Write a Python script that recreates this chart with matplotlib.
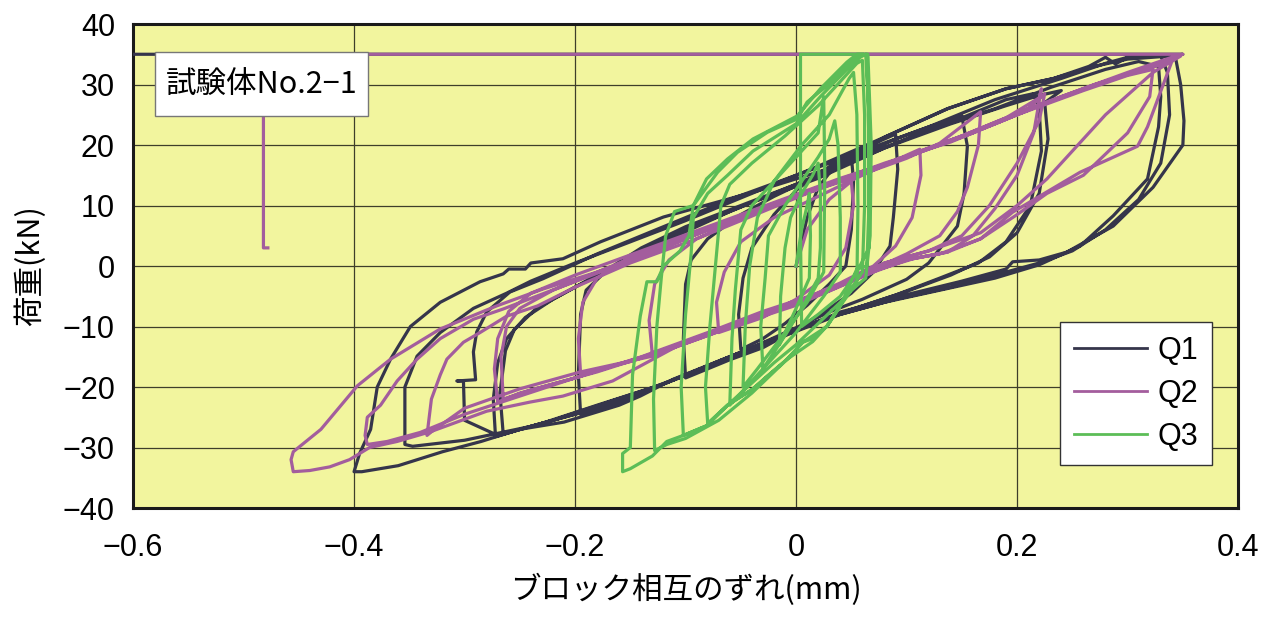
import matplotlib
matplotlib.use("Agg")
import matplotlib.pyplot as plt
from matplotlib.patches import Rectangle

# Q1 (dark) — continuous load path, slip [mm] vs load [kN]
q1_x = [0.0, 0.01, 0.02, 0.035, 0.05, 0.052, 0.05, 0.045, 0.03, 0.01, -0.01, -0.03, -0.05,
        -0.052, -0.048, -0.04, -0.02, 0.0, 0.02, 0.04, 0.055,
        0.07, 0.09, 0.092, 0.088, 0.085, 0.07, 0.05, 0.03, 0.0, -0.03, -0.06, -0.08, -0.1,
        -0.102, -0.1, -0.095, -0.08, -0.05, -0.02, 0.02, 0.06, 0.09, 0.12,
        0.15, 0.155, 0.152, 0.146, 0.12, 0.1, 0.06, 0.03, 0.0, -0.04, -0.08, -0.12, -0.16, -0.195,
        -0.197, -0.195, -0.19, -0.17, -0.14, -0.1, -0.05, 0.0, 0.05, 0.1, 0.15, 0.19,
        0.215, 0.22, 0.222, 0.212, 0.19, 0.165, 0.13, 0.09, 0.04, 0.0, -0.05, -0.1, -0.15, -0.2,
        -0.24, -0.272, -0.274, -0.27, -0.262, -0.245, -0.22, -0.18, -0.14, -0.1, -0.04, 0.02,
        0.08, 0.14, 0.19, 0.22, 0.24,
        0.225, 0.228, 0.22, 0.2, 0.175, 0.14, 0.1, 0.05, 0.0, -0.06, -0.12, -0.18, -0.23, -0.265,
        -0.268, -0.263, -0.255, -0.235, -0.2, -0.16, -0.12, -0.06,
        0.0, 0.06, 0.12, 0.18, 0.23, 0.28, 0.31, 0.328, 0.33, 0.328, 0.318, 0.287, 0.257, 0.22,
        0.18, 0.13, 0.08, 0.03, -0.02, -0.07, -0.12, -0.17, -0.22, -0.27, -0.30,
        -0.301, -0.307, -0.29, -0.292, -0.289, -0.28, -0.259, -0.229,
        -0.18, -0.12, -0.06, 0.0, 0.06, 0.12, 0.18, 0.24, 0.28, 0.3, 0.33, 0.336, 0.338, 0.33,
        0.31, 0.28, 0.25, 0.22, 0.19, 0.14, 0.09, 0.04, -0.01, -0.06, -0.12, -0.18, -0.24, -0.3,
        -0.347, -0.354, -0.354, -0.343, -0.322, -0.292, -0.262, -0.24, -0.2, -0.15, -0.1,
        -0.04, 0.02,
        0.08, 0.137, 0.19, 0.233, 0.265, 0.28, 0.289, 0.3, 0.343, 0.348, 0.351, 0.35, 0.323,
        0.287, 0.245, 0.22, 0.196, 0.19, 0.15, 0.094, 0.04, 0.004, -0.035, -0.066, -0.111,
        -0.141, -0.16, -0.21, -0.25, -0.285, -0.32, -0.36, -0.393, -0.40,
        -0.395, -0.385, -0.379, -0.367, -0.349, -0.322, -0.286, -0.265, -0.26, -0.245, -0.24,
        -0.211, -0.177, -0.12, -0.039, 0.037, 0.08, 0.137, 0.19, 0.233, 0.27, 0.3, 0.33,
        0.343, 0.35, -0.6]
q1_y = [0.0, 8, 13, 16.5, 18.2, 14, 6, 0, -3, -6.5, -9.5, -12, -13.8,
        -8, -2, 3, 8.5, 12.5, 15.3, 17.5, 19,
        20.2, 21.8, 16, 8, 3.3, -1, -4.5, -7, -10.5, -13.5, -15.5, -17, -18.5,
        -12, -3, 1, 4.5, 8.5, 11.5, 15, 18.5, 21, 23,
        24.8, 19.8, 12, 6.6, 0.5, -2.2, -5.5, -7.6, -10.2, -13.5, -16.5, -19.5, -22.5, -24.5,
        -18, -8, -4, -0.5, 3, 6.5, 10, 13.5, 17.5, 21, 24.5, 27.5,
        28.5, 26, 19, 10, 4, 0.5, -2, -4.8, -7.8, -10.5, -14.5, -18, -21.5, -24.5,
        -26.5, -28.2, -22, -16, -12, -8.5, -5.5, -1.5, 2.5, 6, 10.5, 14.5,
        19.5, 23.5, 26.5, 28.2, 29,
        27, 21, 12, 5.5, 1.5, -1.5, -4.2, -7.2, -10.5, -15, -19.5, -23, -26, -27.8,
        -21, -14, -10.5, -7, -3.5, 0.5, 4, 9,
        13.5, 18, 22.5, 26, 29.5, 32.5, 33.8, 33, 28, 23, 14.4, 8.3, 3.3, 0.2,
        -2, -4, -6, -8.5, -12, -16, -19.5, -22.5, -25.5, -28, -25.5,
        -19, -19, -18.8, -14.2, -10.9, -7.6, -4.3, -2.1,
        2, 6.5, 11, 15, 19, 23, 27.5, 31, 33.5, 34.5, 34.8, 32, 25, 17,
        11, 6, 2.5, 0.5, -1, -3.5, -5.5, -8, -11.5, -15, -19.5, -23.5, -26.5, -28.8,
        -29.8, -29.5, -20, -14.9, -11, -7, -4.5, -2.5, 0.5, 4, 7.5,
        12, 16.5,
        21.3, 26, 29.3, 31, 33, 34.5, 33.4, 34.5, 34.8, 30, 24, 20, 13,
        6.6, 2.3, 1, 0.7, -0.5, -2.5, -5, -7.6, -10.4, -13.2, -15.4, -18.7,
        -21.5, -23, -25.8, -27, -29, -30.7, -33, -34, -34,
        -31, -27, -20, -15.4, -10, -6, -2.6, -1.3, -0.5, -0.5, 0.5,
        1.2, 4, 8.1, 12.2, 16.5, 21.3, 26, 29.3, 31, 33, 34.2, 34.6,
        34.8, 35, 35]

# Q2 (purple)
q2_x = [0.0, 0.01, 0.03, 0.05, 0.052, 0.045, 0.03, 0.0, -0.03, -0.07,
        -0.072, -0.065, -0.05, -0.02, 0.02, 0.06,
        0.09, 0.112, 0.113, 0.105, 0.09, 0.07, 0.04, 0.0, -0.04, -0.08, -0.13,
        -0.133, -0.128, -0.115, -0.09, -0.05, 0.0, 0.05, 0.1, 0.13,
        0.167, 0.165, 0.155, 0.146, 0.13, 0.1, 0.076, 0.04, 0.0, -0.05, -0.1, -0.15, -0.195,
        -0.197, -0.193, -0.18, -0.15, -0.1, -0.05, 0.0, 0.05, 0.1, 0.15, 0.19,
        0.22, 0.222, 0.215, 0.2, 0.18, 0.16, 0.137, 0.106, 0.076, 0.03, -0.02, -0.07, -0.13,
        -0.2, -0.25, -0.27, -0.273, -0.27, -0.26, -0.24, -0.2, -0.14, -0.08, -0.02, 0.04, 0.1,
        0.16, 0.21,
        0.225, 0.22, 0.2, 0.175, 0.15, 0.12, 0.08, 0.04, 0.0, -0.06, -0.12, -0.18, -0.24,
        -0.265, -0.267, -0.262, -0.25, -0.22,
        -0.16, -0.1, -0.04, 0.02, 0.08, 0.14, 0.2, 0.26, 0.3, 0.323, 0.32, 0.3, 0.26, 0.227,
        0.2, 0.167, 0.137, 0.1, 0.07, 0.028, -0.02, -0.069, -0.13, -0.195, -0.25, -0.3, -0.33,
        -0.334, -0.33, -0.322, -0.316, -0.301, -0.286, -0.262, -0.234, -0.2, -0.15,
        -0.09, -0.03, 0.03, 0.09, 0.15, 0.21, 0.27, 0.318, 0.34, 0.318, 0.309, 0.257, 0.196,
        0.167, 0.13, 0.09, 0.06, 0.02, -0.03, -0.08, -0.14, -0.2, -0.25, -0.3, -0.34, -0.37,
        -0.388, -0.39, -0.388, -0.376, -0.361, -0.343, -0.322, -0.292, -0.265, -0.225, -0.17,
        -0.1, -0.03, 0.04, 0.1, 0.16, 0.22, 0.28, 0.33, 0.348,
        0.323, 0.28, 0.227, 0.2, 0.167, 0.12, 0.08, 0.04, 0.0, -0.05, -0.1, -0.166, -0.211,
        -0.241, -0.28, -0.307, -0.331, -0.361, -0.386, -0.404, -0.422, -0.44, -0.455,
        -0.457, -0.455, -0.43, -0.397, -0.367, -0.322, -0.271, -0.229, -0.18, -0.12, -0.06,
        0.0, 0.06, 0.12, 0.18, 0.24, 0.3, 0.34, 0.35, -0.482, -0.482, -0.478]
q2_y = [0.0, 6, 11, 14, 10, 3, -1.5, -5.5, -8.5, -11,
        -6, -1, 4, 8, 11.5, 15,
        17.5, 19.3, 15, 8, 3.3, 0, -2.8, -6, -8.8, -11.5, -14.8,
        -9, -3, 1, 4.5, 7.8, 11.5, 14.5, 17.8, 20.3,
        25.5, 20, 13, 9, 5, 2, 0, -3.3, -6.5, -9.5, -12.8, -15.8, -17.8,
        -12, -6, -2, 1.5, 5, 8.3, 11.5, 14.8, 18, 21.5, 24.5,
        27.8, 29.3, 22, 15, 9.5, 5, 2.3, 1.2, -0.5, -4, -7.5, -10.5, -14.5,
        -18.5, -21, -22.5, -17, -12, -7.5, -4.5, -1.5, 2.5, 6.5, 10.5, 14.5, 18,
        22, 26,
        28.5, 24, 17, 10, 5, 2.5, 0.5, -3, -6, -10, -14, -17.5, -20.5,
        -22, -15, -10, -7, -4,
        0.5, 4.5, 9, 13, 17, 20.5, 25, 29, 31.5, 32.5, 28, 22, 15, 12,
        8.5, 4.5, 2.3, 1, -1, -4.3, -7.5, -10.4, -14.9, -17.5, -20.3, -23.5, -27.4,
        -28, -22, -18, -15.4, -12.6, -11, -8.3, -6.6, -3.5, 0.5,
        4.5, 9, 13.5, 17.5, 21.5, 26, 30, 32.6, 33.8, 23, 19.8, 15.5, 8.9,
        4.5, 2, 0.8, -1.5, -4.5, -7.5, -11, -15, -18.5, -21.5, -24.5, -27.5, -29,
        -29.5, -28, -25, -23, -19, -15.4, -12, -8.8, -7.1, -4.3, -0.5,
        4.5, 9.5, 14, 18, 22, 26.5, 30.5, 33.5, 34.7,
        32, 25, 14.4, 10, 5.5, 2.5, 0.5, -3, -6, -9.5, -12.5, -19, -21.5,
        -22.5, -24, -25.8, -27.4, -29, -30, -32, -33.2, -33.8, -34,
        -32, -30.7, -27, -19.8, -15.4, -10.4, -6.6, -3.8, -1, 3, 7.5,
        11.5, 15.5, 19.5, 23.5, 28, 32, 34.5, 35, 35, 3, 3]

# Q3 (green)
q3_x = [0.0, 0.005, 0.01, 0.012, 0.013, 0.012, 0.0, -0.01, -0.015,
        -0.014, -0.01, -0.005, 0.005, 0.015,
        0.02, 0.022, 0.022, 0.02, 0.005, -0.01, -0.03,
        -0.032, -0.028, -0.025, -0.01, 0.005, 0.02, 0.03,
        0.035, 0.038, 0.04, 0.04, 0.025, 0.0, -0.025, -0.045, -0.06,
        -0.058, -0.055, -0.05, -0.04, -0.02, 0.0, 0.02, 0.025,
        0.026, 0.025, 0.01, -0.01, -0.035, -0.048,
        -0.046, -0.042, -0.035, -0.02, 0.005, 0.03, 0.048,
        0.052, 0.055, 0.056, 0.055, 0.04, 0.02, 0.0, -0.02, -0.05, -0.08,
        -0.082, -0.078, -0.072, -0.068, -0.06, -0.04, -0.01, 0.02, 0.04, 0.055,
        0.06, 0.062, 0.062, 0.06, 0.045, 0.028, 0.015, -0.008, -0.026, -0.039, -0.062,
        -0.081, -0.102, -0.104, -0.1, -0.095, -0.093, -0.08, -0.062, -0.039, 0.0, 0.022,
        0.046, 0.058,
        0.063, 0.066, 0.066, 0.064, 0.055, 0.04, 0.028, 0.015, 0.006, -0.008, -0.04, -0.07,
        -0.1, -0.117, -0.128, -0.129, -0.126, -0.122, -0.118, -0.11, -0.093, -0.081, -0.062,
        -0.039, 0.001, 0.022, 0.046, 0.055,
        0.065, 0.068, 0.067, 0.063, 0.05, 0.04, 0.028, 0.006, -0.008, -0.026, -0.039, -0.062,
        -0.081, -0.102, -0.117, -0.13, -0.15, -0.157, -0.157, -0.15, -0.148, -0.141, -0.135,
        -0.126, -0.12, -0.105, -0.097, -0.093, -0.071, -0.053, -0.026, 0.001, 0.01, 0.028,
        0.046, 0.055, 0.064,
        0.066, 0.066, 0.055, 0.04, 0.02, 0.005, 0.004, 0.004, 0.06]
q3_y = [0.0, 6, 10, 12, 5, -2, -7, -11, -13,
        -5, 3, 8, 12, 15,
        17, 12, 3, -2, -7, -11.5, -17,
        -10, -2, 5, 10, 14, 18, 21,
        24, 20, 8, -1, -5, -11, -16, -20, -23,
        -12, -4, 6, 10, 14, 18, 22, 28,
        15, -1, -6, -11, -17, -20,
        -10, 0, 8, 14, 20, 25, 31,
        32, 25, 10, -3, -6, -9.5, -13, -16, -21, -26,
        -20, -10, 2, 10, 13.5, 17, 21.5, 26.5, 30.5, 33.5,
        34, 25, 10, -1, -5, -9.9, -12.5, -15.4, -18.2, -20.3, -23,
        -26.4, -28, -20, -8, 2, 8, 12, 15, 19, 23.5, 28,
        32.5, 34.5,
        35, 25, 10, 0, -0.5, -6.6, -9.9, -12, -12.6, -15.4, -21, -25.5,
        -28.5, -29.5, -30.5, -22, -10, -2, 5, 9, 10, 14.4, 17.7,
        21, 24.8, 29.3, 33.7, 35,
        35, 20, 5, -2, -4, -6.6, -10, -12.6, -15.4, -18.2, -20.3, -23,
        -26.4, -28, -29, -31.4, -33.5, -34, -31, -30, -18, -8.3, -2.6,
        -2.6, 0, 2.5, 5, 10, 15.5, 18.8, 22.1, 24.3, 27.1, 29.8,
        33, 34.7, 35,
        20, 3, -1, -5, -8, -10, 5, 35, 35]

x_ticks = [-0.6, -0.4, -0.2, 0.0, 0.2, 0.4]
x_tick_labels = ["\u22120.6", "\u22120.4", "\u22120.2", "0", "0.2", "0.4"]
y_ticks = [-40, -30, -20, -10, 0, 10, 20, 30, 40]
y_tick_labels = ["\u221240", "\u221230", "\u221220", "\u221210", "0", "10", "20", "30", "40"]

C1, C2, C3 = "#35354b", "#a35d9d", "#5cbd57"
JP = ["Noto Sans CJK JP", "DejaVu Sans"]
LAT = "Liberation Sans"

fig = plt.figure(figsize=(12.67, 6.19), dpi=100)
fig.patch.set_facecolor("white")
ax = fig.add_axes([0.105, 0.1793, 0.8722, 0.7819])
ax.set_facecolor("#f2f59e")

ax.plot(q1_x, q1_y, color=C1, lw=2.3, label="Q1", zorder=3)
ax.plot(q2_x, q2_y, color=C2, lw=2.3, label="Q2", zorder=4)
ax.plot(q3_x, q3_y, color=C3, lw=2.3, label="Q3", zorder=5)

ax.set_xlim(-0.6, 0.4)
ax.set_ylim(-40, 40)
ax.set_xticks(x_ticks)
ax.set_xticklabels(x_tick_labels, family=LAT, fontsize=22)
ax.set_yticks(y_ticks)
ax.set_yticklabels(y_tick_labels, family=LAT, fontsize=22)
ax.tick_params(axis="y", length=0, pad=13)
ax.tick_params(axis="x", length=0, pad=18)
ax.grid(True, color="#3e3e2a", lw=0.9, zorder=1)
ax.set_axisbelow(True)
for s in ax.spines.values():
    s.set_linewidth(2.2)
    s.set_color("#1a1a1a")

ax.set_xlabel("ブロック相互のずれ(mm)", family=JP, fontsize=22, labelpad=8)
ax.set_ylabel("荷重(kN)", family=JP, fontsize=22, labelpad=12)

# specimen tag, covering the load line
ax.add_patch(Rectangle((0.0199, 0.81), 0.1928, 0.1322, transform=ax.transAxes,
                       facecolor="white", edgecolor="#777777", lw=1.0, zorder=6))
ax.text(0.116, 0.874, "試験体No.2\u22121", transform=ax.transAxes, family=JP,
        fontsize=22, ha="center", va="center", zorder=7)

leg = ax.legend(loc="upper left", bbox_to_anchor=(0.839, 0.384),
                frameon=True, fancybox=False, framealpha=1, edgecolor="#333333",
                prop={"family": LAT, "size": 22}, handlelength=2.4,
                borderpad=0.45, labelspacing=0.42, handletextpad=0.35,
                borderaxespad=0.0)
leg.get_frame().set_linewidth(1.0)
for h in leg.get_lines():
    h.set_linewidth(2.0)
leg.set_zorder(8)

fig.savefig("out.png", dpi=100)
